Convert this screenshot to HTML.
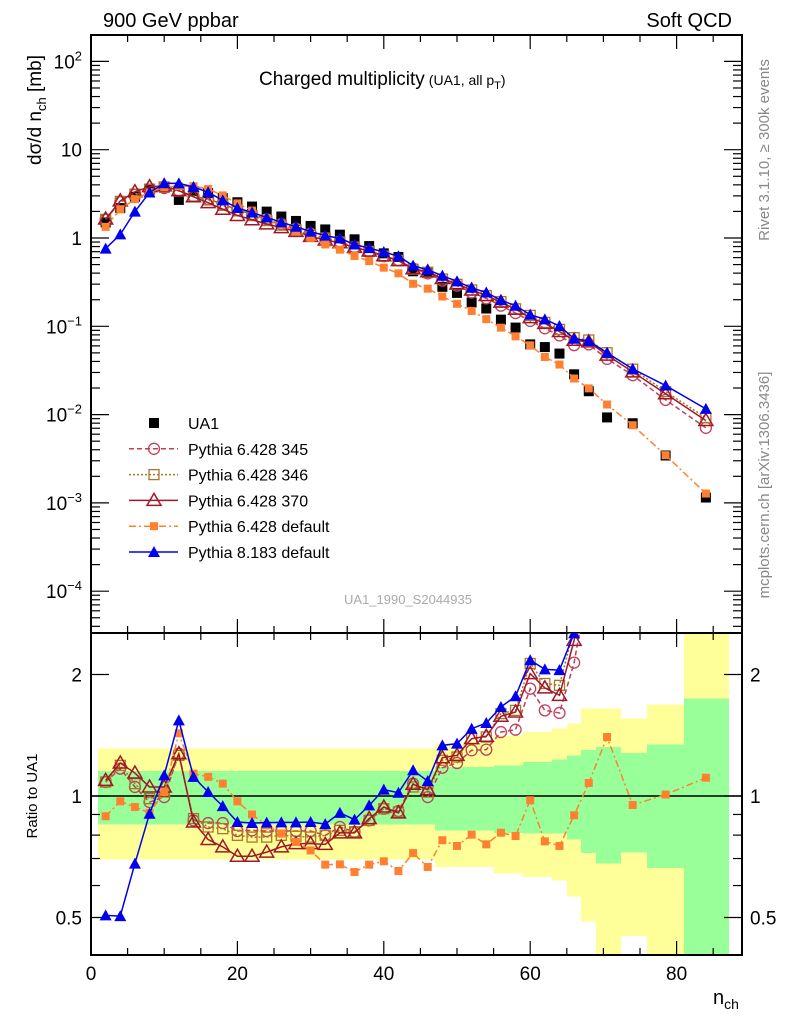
<!DOCTYPE html>
<html><head><meta charset="utf-8"><style>
html,body{margin:0;padding:0;background:#fff;}
svg{display:block;font-family:"Liberation Sans",sans-serif;}
</style></head><body>
<svg id="chart" width="786" height="1024" viewBox="0 0 786 1024" xmlns="http://www.w3.org/2000/svg">
<defs>
<clipPath id="clipMain"><rect x="91" y="35" width="651" height="598"/></clipPath>
<clipPath id="clipRatio"><rect x="91" y="633" width="651" height="322"/></clipPath>
</defs>
<g id="bands" clip-path="url(#clipRatio)" shape-rendering="crispEdges"></g>
<g id="axes"></g>
<g id="series-main" clip-path="url(#clipMain)"></g>
<g id="series-ratio" clip-path="url(#clipRatio)"></g>
<g id="legend"></g>
<text x="103" y="27" font-size="20">900 GeV ppbar</text>
<text x="732" y="27" font-size="20" text-anchor="end">Soft QCD</text>
<text x="259" y="85" font-size="19">Charged multiplicity<tspan font-size="14" dx="4">(UA1, all p</tspan><tspan font-size="11" dy="4">T</tspan><tspan font-size="14" dy="-4">)</tspan></text>
<text transform="translate(41,110) rotate(-90)" font-size="19" text-anchor="middle">dσ/d n<tspan font-size="13" dy="5">ch</tspan><tspan dy="-5"> [mb]</tspan></text>
<text transform="translate(37,796) rotate(-90)" font-size="15" text-anchor="middle">Ratio to UA1</text>
<text x="713" y="1004" font-size="20">n<tspan font-size="14" dy="5">ch</tspan></text>
<text transform="translate(769,150) rotate(-90)" font-size="15" fill="#888" text-anchor="middle">Rivet 3.1.10, ≥ 300k events</text>
<text transform="translate(769,485) rotate(-90)" font-size="15" fill="#888" text-anchor="middle">mcplots.cern.ch [arXiv:1306.3436]</text>
<text x="408" y="604" font-size="13" fill="#aaa" text-anchor="middle">UA1_1990_S2044935</text>
</svg>
<script>
const nch = [2,4,6,8,10,12,14,16,18,20,22,24,26,28,30,32,34,36,38,40,42,44,46,48,50,52,54,56,58,60,62,64,66,68,70.5,74,78.5,84];
const ua1 = [1.5,2.18,2.93,3.62,3.7,2.7,3.4,3.22,2.83,2.54,2.27,1.99,1.75,1.56,1.37,1.25,1.09,0.966,0.81,0.67,0.61,0.42,0.40,0.28,0.239,0.186,0.159,0.119,0.0967,0.0624,0.0582,0.0491,0.0286,0.0184,0.00929,0.00798,0.00344,0.00115];
const ratio345 = [1.083,1.169,1.053,0.966,0.994,1.273,0.87,0.857,0.857,0.819,0.822,0.819,0.819,0.819,0.819,0.799,0.838,0.815,0.87,0.93,0.918,1.073,0.994,1.175,1.207,1.298,1.303,1.44,1.46,1.845,1.63,1.606,2.14,3.39,4.6,3.5,4.27,6.16];
const ratio346 = [1.083,1.191,1.073,0.985,1.023,1.261,0.879,0.838,0.83,0.799,0.791,0.791,0.799,0.795,0.791,0.799,0.822,0.815,0.87,0.93,0.913,1.053,1.023,1.226,1.249,1.387,1.4,1.6,1.63,2.13,1.9,1.88,2.6,3.8,5.4,4.1,5.3,8.0];
const ratio370 = [1.093,1.207,1.14,1.053,1.053,1.273,0.862,0.78,0.748,0.709,0.709,0.726,0.748,0.762,0.762,0.759,0.81,0.81,0.879,0.939,0.908,1.069,1.037,1.244,1.261,1.387,1.406,1.576,1.615,2.01,1.853,1.776,2.43,3.62,5.07,3.82,5.0,7.46];
const ratioP6def = [0.891,0.97,0.939,0.908,1.023,1.43,1.136,1.115,1.073,0.97,0.90,0.846,0.807,0.769,0.733,0.676,0.677,0.648,0.676,0.689,0.652,0.722,0.667,0.777,0.752,0.802,0.759,0.811,0.796,0.976,0.772,0.752,0.896,1.077,1.40,0.95,1.008,1.11];
const ratioP8def = [0.506,0.504,0.68,0.904,1.125,1.54,1.115,1.023,0.944,0.862,0.857,0.859,0.86,0.86,0.862,0.852,0.908,0.874,0.948,1.037,1.019,1.158,1.089,1.335,1.348,1.468,1.517,1.662,1.766,2.17,2.06,2.05,2.53,3.71,5.39,4.13,6.2,10.1];
const bandLo = [1,47,51,55,59,63,65,67,69,72.3,76,81];
const bandHi = [47,51,55,59,63,65,67,69,72.3,76,81,87];
const yellowUp = [1.31,1.348,1.374,1.413,1.441,1.47,1.511,1.646,1.646,1.554,1.684,3];
const greenUp = [1.153,1.18,1.18,1.19,1.214,1.23,1.261,1.30,1.322,1.278,1.34,1.742];
const greenDn = [0.849,0.822,0.822,0.81,0.807,0.807,0.78,0.722,0.68,0.724,0.663,0.3];
const yellowDn = [0.697,0.667,0.667,0.642,0.63,0.618,0.564,0.489,0.3,0.45,0.3,0.3];
const xTicks = [0,20,40,60,80];
const mainTickExp = [2,1,0,-1,-2,-3,-4];
const ratioTicks = [2,1,0.5];
const ratioTickLabels = ["2","1","0.5"];

const NS="http://www.w3.org/2000/svg";
const X0=91,X1=742,MT=35,MB=633,RB=955;
const xs=v=>X0+v*7.32;
const ym=v=>238-88.3*Math.log10(v);
const yr=r=>796-121.5*Math.log2(r);
function mk(tag,attrs,parent){const e=document.createElementNS(NS,tag);for(const k in attrs)e.setAttribute(k,attrs[k]);parent.appendChild(e);return e;}
const axes=document.getElementById('axes');
const bands=document.getElementById('bands');
for(let i=0;i<bandLo.length;i++){
  const x=Math.round(xs(bandLo[i])),w=Math.round(xs(bandHi[i]))-x+1;
  const y1=mk('rect',{x:x,y:yr(yellowUp[i]),width:w,height:yr(yellowDn[i])-yr(yellowUp[i]),fill:'#ffff99'},bands);
  
  
}
for(let i=0;i<bandLo.length;i++){
  const x=Math.round(xs(bandLo[i])),w=Math.round(xs(bandHi[i]))-x+1;
  const g1=mk('rect',{x:x,y:yr(greenUp[i]),width:w,height:yr(greenDn[i])-yr(greenUp[i]),fill:'#99ff99'},bands);
  
  
}
const f1=mk('rect',{x:X0,y:MT,width:X1-X0,height:MB-MT,fill:'none',stroke:'#000','stroke-width':2},axes);


const f2=mk('rect',{x:X0,y:MB,width:X1-X0,height:RB-MB,fill:'none',stroke:'#000','stroke-width':2},axes);


const one=mk('line',{x1:X0,x2:X1,y1:yr(1),y2:yr(1),stroke:'#000','stroke-width':1.5},axes);


for(let v=0;v<=85;v+=5){
  const maj=v%20===0,L=maj?14:7,x=xs(v);
  [[MT,1],[MB,-1],[MB,1],[RB,-1]].forEach(([y,d])=>mk('line',{x1:x,x2:x,y1:y,y2:y+d*L,stroke:'#000','stroke-width':1.2},axes));
}
xTicks.forEach(v=>{const t=mk('text',{x:xs(v),y:980,'font-size':19,'text-anchor':'middle'},axes);t.textContent=v;

});
for(let e=-5;e<=2;e++){for(let m=1;m<=9;m++){const v=m*Math.pow(10,e),y=ym(v);if(y<MT||y>MB)continue;const L=m===1?18:9;
mk('line',{x1:X0,x2:X0+L,y1:y,y2:y,stroke:'#000','stroke-width':1.2},axes);mk('line',{x1:X1,x2:X1-L,y1:y,y2:y,stroke:'#000','stroke-width':1.2},axes);}}
mainTickExp.forEach(e=>{const y=ym(Math.pow(10,e));const t=mk('text',{x:82,y:y+7,'font-size':19,'text-anchor':'end'},axes);


if(e===1)t.textContent='10';else if(e===0)t.textContent='1';else{t.textContent='10';const s=mk('tspan',{dy:-8,'font-size':13},t);s.textContent=String(e).replace('-','−');}});
[0.5,0.6,0.7,0.8,0.9,1,2].forEach(r=>{const y=yr(r),L=(r===1||r===2||r===0.5)?18:9;
mk('line',{x1:X0,x2:X0+L,y1:y,y2:y,stroke:'#000','stroke-width':1.2},axes);mk('line',{x1:X1,x2:X1-L,y1:y,y2:y,stroke:'#000','stroke-width':1.2},axes);});
ratioTicks.forEach((r,i)=>{[[82,'end'],[750,'start']].forEach(([x,a])=>{const t=mk('text',{x:x,y:yr(r)+7,'font-size':19,'text-anchor':a},axes);t.textContent=ratioTickLabels[i];

});});

function marker(g,type,x,y,col){
  if(type==='sqfill')return mk('rect',{x:x-5,y:y-5,width:10,height:10,fill:col},g);
  if(type==='sqsmall')return mk('rect',{x:x-4,y:y-4,width:8,height:8,fill:col},g);
  if(type==='sqopen')return mk('rect',{x:x-5,y:y-5,width:10,height:10,fill:'none',stroke:col,'stroke-width':1.3},g);
  if(type==='circ')return mk('circle',{cx:x,cy:y,r:5.5,fill:'none',stroke:col,'stroke-width':1.3},g);
  if(type==='triopen')return mk('path',{d:`M${x},${y-7}L${x+7},${y+5}L${x-7},${y+5}Z`,fill:'none',stroke:col,'stroke-width':1.5},g);
  if(type==='trifill')return mk('path',{d:`M${x},${y-6}L${x+6},${y+5}L${x-6},${y+5}Z`,fill:col},g);
}
const series=[
 {name:'pythia-6428-345',ratio:ratio345,col:'#c0405a',dash:'5,3',mark:'circ',label:'Pythia 6.428 345'},
 {name:'pythia-6428-346',ratio:ratio346,col:'#a8782a',dash:'2,2',mark:'sqopen',label:'Pythia 6.428 346'},
 {name:'pythia-6428-370',ratio:ratio370,col:'#a01828',dash:'',mark:'triopen',label:'Pythia 6.428 370'},
 {name:'pythia-6428-default',ratio:ratioP6def,col:'#ff8030',dash:'7,3,2,3',mark:'sqsmall',label:'Pythia 6.428 default'},
 {name:'pythia-8183-default',ratio:ratioP8def,col:'#0000ee',dash:'',mark:'trifill',label:'Pythia 8.183 default'}];
const gm=document.getElementById('series-main'),gr=document.getElementById('series-ratio');
ua1.forEach((v,i)=>{const m=marker(gm,'sqfill',xs(nch[i]),ym(v),'#000');

});
series.forEach(s=>{
  const ptsM=nch.map((n,i)=>[xs(n),ym(ua1[i]*s.ratio[i])]);
  const ptsR=nch.map((n,i)=>[xs(n),yr(s.ratio[i])]);
  const l1=mk('polyline',{points:ptsM.map(p=>p.join(',')).join(' '),fill:'none',stroke:s.col,'stroke-width':1.5,'stroke-dasharray':s.dash},gm);
  
  
  const l2=mk('polyline',{points:ptsR.map(p=>p.join(',')).join(' '),fill:'none',stroke:s.col,'stroke-width':1.5,'stroke-dasharray':s.dash},gr);
  
  
  ptsM.forEach(p=>{const m=marker(gm,s.mark,p[0],p[1],s.col);
  
  });
  ptsR.forEach(p=>{const m=marker(gr,s.mark,p[0],p[1],s.col);
  
  });
});
const lg=document.getElementById('legend');
const rows=[{label:'UA1',mark:'sqfill',col:'#000',dash:null}].concat(series);
rows.forEach((s,i)=>{const y=423+i*25.8;
  const g=mk('g',{},lg);
  
  
  if(s.dash!==null)mk('line',{x1:129,x2:178,y1:y,y2:y,stroke:s.col,'stroke-width':1.5,'stroke-dasharray':s.dash},g);
  marker(g,s.mark,154,y,s.col);
  const t=mk('text',{x:188,y:y+6,'font-size':16},g);t.textContent=s.label;});
</script>
</body></html>
